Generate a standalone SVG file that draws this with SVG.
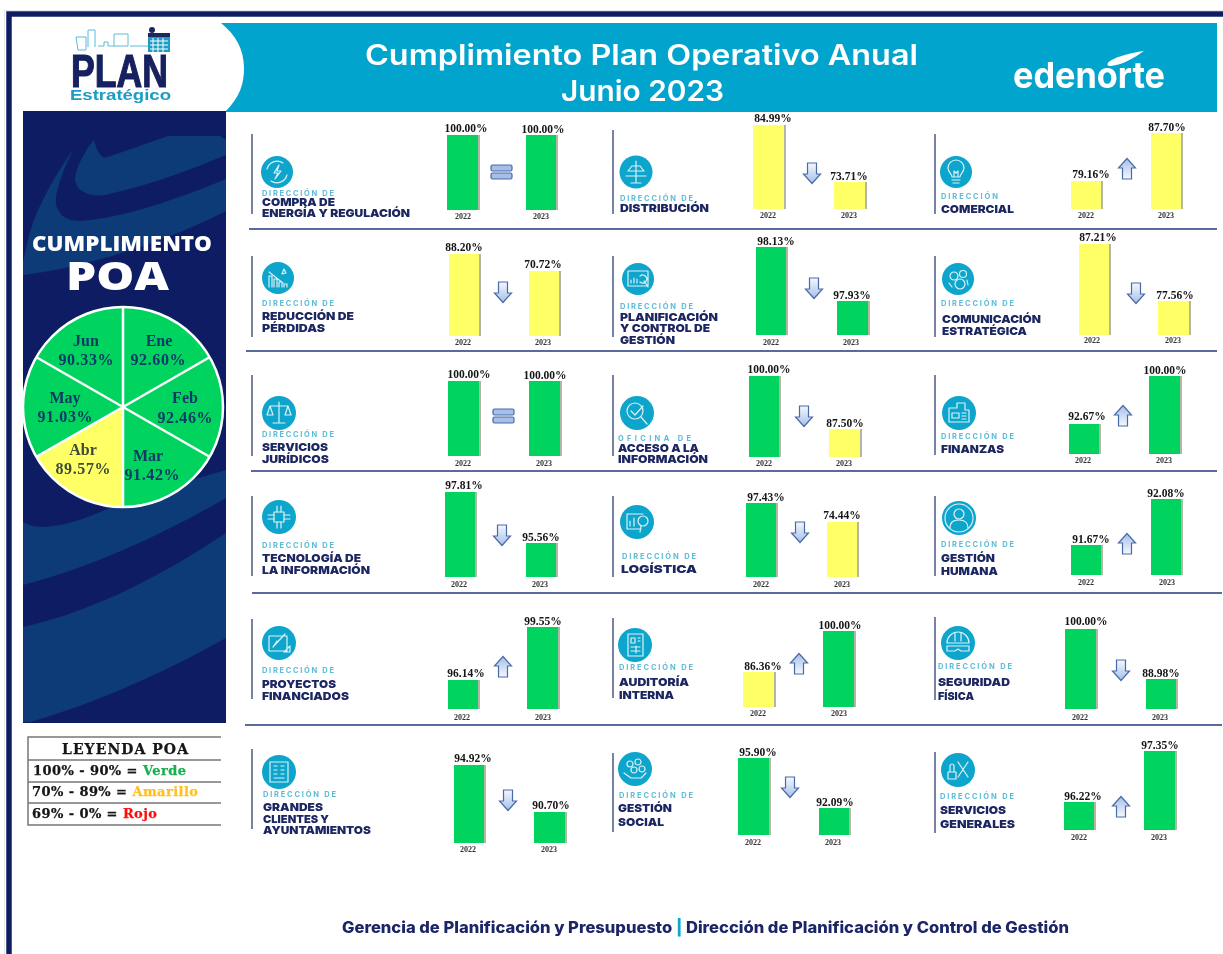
<svg xmlns="http://www.w3.org/2000/svg" xmlns:xlink="http://www.w3.org/1999/xlink" width="1223" height="954" viewBox="0 0 1223 954">
<style>
.d{font:700 7.5px Inter,"Liberation Sans",sans-serif;fill:#5cbcd8}
.n{font:900 11px Inter,"Liberation Sans",sans-serif;fill:#1b2560}
.p{font:bold 11.5px "Liberation Serif",serif;fill:#141414;text-anchor:middle}
.y{font:bold 8px "Liberation Serif",serif;fill:#333;text-anchor:middle}
.g{fill:#00d45f}.a{fill:#ffff66}.s{fill:#b5b5a5}
.c{fill:#0ea5cb}
.i{fill:none;stroke:#fff;stroke-width:1.2;stroke-linecap:round;stroke-linejoin:round;opacity:.85}
.v{stroke:#4c5786;stroke-width:1.5}
.r{stroke:#5a6a9c;stroke-width:1.8}
.m{font:bold 16px "Liberation Serif",serif;fill:#0d3a66;text-anchor:middle}
.l{font:bold 13px "DejaVu Serif",serif;fill:#141414;stroke:currentColor;stroke-width:.25}
.w{fill:none;stroke:#5bbcd8;stroke-width:1}
</style>
<defs>
<linearGradient id="ag" x1="0" y1="0" x2="0" y2="1"><stop offset="0" stop-color="#f4f8ff"/><stop offset="1" stop-color="#a5bfe8"/></linearGradient>
<linearGradient id="au" x1="0" y1="1" x2="0" y2="0"><stop offset="0" stop-color="#f4f8ff"/><stop offset="1" stop-color="#a5bfe8"/></linearGradient>
<path id="dn" d="M-4.500,-10H4.500V1H8.500L0,10.500L-8.500,1H-4.500Z" fill="url(#ag)" stroke="#4a6aa8" stroke-width="1.2"/>
<path id="up" d="M-4.500,10H4.500V-1H8.500L0,-10.500L-8.500,-1H-4.500Z" fill="url(#au)" stroke="#4a6aa8" stroke-width="1.2"/>
<g id="eq"><rect x="-11" y="-7" width="21" height="6" rx="1.5" fill="#a5bfe8" stroke="#4a6aa8" stroke-width="1.2"/><rect x="-11" y="1" width="21" height="6" rx="1.5" fill="#a5bfe8" stroke="#4a6aa8" stroke-width="1.2"/></g>
<filter id="soft" x="0" y="0" width="100%" height="100%"><feGaussianBlur stdDeviation="0.45"/></filter>
</defs>
<rect width="1223" height="954" fill="#fff"/>
<g filter="url(#soft)">
<g id="frame">
<path d="M4,954V10H1223" fill="none" stroke="#e6e6e6" stroke-width="2"/>
<path d="M9,954V14H1223" fill="none" stroke="#0f1f64" stroke-width="5.5"/>
</g>
<g id="header">
<path d="M221,23H1217V112H225C240,97 244,84 244,68C244,50 236,35 221,23Z" fill="#06a4cc"/>
<text x="365" y="65" font-family="Inter,'Liberation Sans',sans-serif" font-weight="600" font-size="28" fill="#fff" textLength="553" lengthAdjust="spacingAndGlyphs">Cumplimiento Plan Operativo Anual</text>
<text x="561" y="101" font-family="Inter,'Liberation Sans',sans-serif" font-weight="600" font-size="28" fill="#fff" textLength="163" lengthAdjust="spacingAndGlyphs">Junio 2023</text>
<text x="1013" y="88" font-family="Inter,'Liberation Sans',sans-serif" font-weight="700" font-size="36" fill="#fff" textLength="152" lengthAdjust="spacingAndGlyphs">edenorte</text>
<path d="M1144,51C1130,53 1118,56 1110,61C1106,64 1107,66 1111,66C1122,65 1134,58 1144,51Z" fill="#fff"/>
</g>
<g id="logo">
<path class="w" d="M76,37H86V50H78ZM88,47V30H95V47M98,46H104V42H108V46H114M114,34H128V46H114ZM130,46H148"/>
<rect x="148" y="35" width="22" height="17" fill="#1f9ec4"/>
<rect x="148" y="33" width="22" height="4" fill="#1b2560"/>
<path d="M150,41H168M150,45H168M150,49H168M153,38V52M158,38V52M163,38V52" stroke="#fff" stroke-width="1" fill="none"/>
<circle cx="152" cy="30" r="3" fill="#1b2560"/>
<text x="71" y="87" font-family="'Liberation Sans',sans-serif" font-weight="bold" font-size="47" fill="#16205e" stroke="#16205e" stroke-width="1.2" textLength="97" lengthAdjust="spacingAndGlyphs">PLAN</text>
<text x="70" y="100" font-family="'Liberation Sans',sans-serif" font-weight="bold" font-size="15" fill="#1c9cc4" textLength="101" lengthAdjust="spacingAndGlyphs">Estratégico</text>
</g>
<g id="panel">
<rect x="23" y="111" width="203" height="612" fill="#0f1f64"/>
<path d="M220,136L168,136L105,158C98,155 96,148 94,140C85,150 75,170 75,180C77,192 90,197 105,195C150,185 190,170 226,155V140Z" fill="#0d3a78"/>
<path d="M73,150C55,175 35,210 28,240L23,262V275C80,268 160,245 226,211V179C180,198 125,218 80,221C62,222 52,208 57,192C60,178 66,164 73,150Z" fill="#0d3a78"/>
<path d="M23,522C35,530 60,530 110,508C150,495 190,480 226,470V498C170,530 100,565 23,585Z" fill="#0d3a78"/>
<path d="M23,627C100,610 170,570 226,533V638C160,675 90,705 30,722H23Z" fill="#0d3a78"/>
<text x="32" y="251" font-family="'Open Sans','Liberation Sans',sans-serif" font-weight="800" font-size="21" fill="#fff" textLength="180" lengthAdjust="spacingAndGlyphs">CUMPLIMIENTO</text>
<text x="66" y="290" font-family="'Open Sans','Liberation Sans',sans-serif" font-weight="800" font-size="38" fill="#fff" textLength="103" lengthAdjust="spacingAndGlyphs">POA</text>
</g>
<g id="pie">
<circle cx="123" cy="407" r="100" fill="#00d45f"/>
<path d="M123,407L36,457A100,100 0 0 0 123,507Z" fill="#ffff66"/>
<circle cx="123" cy="407" r="100" fill="none" stroke="#fff" stroke-width="2.5"/>
<path d="M123,307V507M36,357L210,457M210,357L36,457" stroke="#fff" stroke-width="2.5" fill="none"/>
<text class="m" x="86" y="346">Jun</text><text class="m" x="86" y="365" textLength="55">90.33%</text>
<text class="m" x="159" y="346">Ene</text><text class="m" x="158" y="365" textLength="55">92.60%</text>
<text class="m" x="185" y="403">Feb</text><text class="m" x="185" y="423" textLength="55">92.46%</text>
<text class="m" x="148" y="461">Mar</text><text class="m" x="152" y="480" textLength="55">91.42%</text>
<text class="m" x="83" y="455" style="fill:#3d4a3a">Abr</text><text class="m" x="83" y="474" textLength="55" style="fill:#3d4a3a">89.57%</text>
<text class="m" x="65" y="403">May</text><text class="m" x="65" y="422" textLength="55">91.03%</text>
</g>
<g id="leyenda">
<rect x="28" y="737" width="193" height="88" fill="#fff"/>
<path d="M221,737H28V825H221M28,760H221M28,782H221M28,803H221" fill="none" stroke="#777" stroke-width="1.5"/>
<text class="l" x="62" y="754" textLength="126" style="font-size:14px;color:#141414">LEYENDA POA</text>
<text class="l" x="33" y="775" textLength="153" style="color:#141414">100% - 90% = <tspan fill="#16b050" stroke="#16b050">Verde</tspan></text>
<text class="l" x="32" y="796" textLength="166" style="color:#141414">70% - 89% = <tspan fill="#ffc020" stroke="#ffc020">Amarillo</tspan></text>
<text class="l" x="32" y="818" textLength="125" style="color:#141414">69% - 0% = <tspan fill="#ff1010" stroke="#ff1010">Rojo</tspan></text>
</g>
<g id="connectors">
<path class="r" d="M249,229H1217M246,351H1217M251,471H1217M252,593H1222M245,725H1222"/>
</g>
<g id="compra-energia">
<path class="v" d="M252,134V214"/><circle class="c" cx="277" cy="172" r="16"/>
<g class="i" transform="translate(277,172)"><path d="M-10,-3A10.500,10.500 0 0 1 6,-9M10,3A10.500,10.500 0 0 1 -6,9M2,-7L-3,1H1L-2,7L4,-1H0Z"/></g>
<text class="d" x="262" y="196" textLength="72" lengthAdjust="spacing">DIRECCIÓN DE</text>
<text class="n" x="262" y="206" textLength="73" lengthAdjust="spacingAndGlyphs">COMPRA DE</text>
<text class="n" x="262" y="217" textLength="148" lengthAdjust="spacingAndGlyphs">ENERGÍA Y REGULACIÓN</text>
<rect class="s" x="477" y="135" width="3" height="75"/><rect class="g" x="447" y="135" width="31" height="75"/>
<rect class="s" x="555" y="135" width="3" height="75"/><rect class="g" x="526" y="135" width="30" height="75"/>
<text class="p" x="466" y="132">100.00%</text><text class="p" x="543" y="133">100.00%</text>
<text class="y" x="463" y="219">2022</text><text class="y" x="541" y="219">2023</text>
<use xlink:href="#eq" href="#eq" x="502" y="172"/>
</g>
<g id="distribucion">
<path class="v" d="M613,130V214"/><circle class="c" cx="636" cy="172" r="16.500"/>
<g class="i" transform="translate(636,172)"><path d="M0,-11V11M-4,-6H4M-8,-1H8M-10,4H10M-5,11H5M-4,-6L-8,-1M4,-6L8,-1"/></g>
<text class="d" x="620" y="201" textLength="73" lengthAdjust="spacing">DIRECCIÓN DE</text>
<text class="n" x="620" y="212" textLength="89" lengthAdjust="spacingAndGlyphs">DISTRIBUCIÓN</text>
<rect class="s" x="783" y="125" width="3" height="84"/><rect class="a" x="753" y="125" width="31" height="84"/>
<rect class="s" x="864" y="182" width="3" height="27"/><rect class="a" x="834" y="182" width="31" height="27"/>
<text class="p" x="773" y="122">84.99%</text><text class="p" x="849" y="180">73.71%</text>
<text class="y" x="768" y="218">2022</text><text class="y" x="849" y="218">2023</text>
<use xlink:href="#dn" href="#dn" x="812" y="173"/>
</g>
<g id="comercial">
<path class="v" d="M935,134V214"/><circle class="c" cx="956" cy="172" r="16"/>
<g class="i" transform="translate(956,172)"><path d="M-4,5C-4,2 -8,0 -8,-4A8,8 0 0 1 8,-4C8,0 4,2 4,5ZM-4,8H4M-3,11H3M-2,5V-1L0,1L2,-1V5"/></g>
<text class="d" x="941" y="199" textLength="57" lengthAdjust="spacing">DIRECCIÓN</text>
<text class="n" x="941" y="213" textLength="73" lengthAdjust="spacingAndGlyphs">COMERCIAL</text>
<rect class="s" x="1100" y="181" width="3" height="28"/><rect class="a" x="1071" y="181" width="30" height="28"/>
<rect class="s" x="1180" y="133" width="3" height="76"/><rect class="a" x="1151" y="133" width="30" height="76"/>
<text class="p" x="1091" y="178">79.16%</text><text class="p" x="1167" y="131">87.70%</text>
<text class="y" x="1086" y="218">2022</text><text class="y" x="1166" y="218">2023</text>
<use xlink:href="#up" href="#up" x="1127" y="169"/>
</g>
<g id="reduccion-perdidas">
<path class="v" d="M252,256V337"/><circle class="c" cx="278" cy="278" r="16"/>
<g class="i" transform="translate(278,278)"><path d="M-9,9V-2H-6V9M-4,9V1H-1V9M1,9V4H4V9M6,9V6H9V9M-9,-6L5,5M6,-9L4,-4L8,-5Z"/></g>
<text class="d" x="262" y="306" textLength="72" lengthAdjust="spacing">DIRECCIÓN DE</text>
<text class="n" x="262" y="320" textLength="92" lengthAdjust="spacingAndGlyphs">REDUCCIÓN DE</text>
<text class="n" x="262" y="332" textLength="63" lengthAdjust="spacingAndGlyphs">PÉRDIDAS</text>
<rect class="s" x="478" y="254" width="3" height="82"/><rect class="a" x="449" y="254" width="30" height="82"/>
<rect class="s" x="558" y="271" width="3" height="65"/><rect class="a" x="529" y="271" width="30" height="65"/>
<text class="p" x="464" y="251">88.20%</text><text class="p" x="543" y="268">70.72%</text>
<text class="y" x="463" y="345">2022</text><text class="y" x="543" y="345">2023</text>
<use xlink:href="#dn" href="#dn" x="503" y="292"/>
</g>
<g id="planificacion">
<path class="v" d="M613,256V337"/><circle class="c" cx="638" cy="279" r="16"/>
<g class="i" transform="translate(638,279)"><path d="M-10,-8H10V7H-10ZM-7,4V1M-4,4V-1M-1,4V0M2,3A4,4 0 1 0 2,-3M6,2L10,8"/></g>
<text class="d" x="620" y="309" textLength="73" lengthAdjust="spacing">DIRECCIÓN DE</text>
<text class="n" x="620" y="321" textLength="98" lengthAdjust="spacingAndGlyphs">PLANIFICACIÓN</text>
<text class="n" x="620" y="332" textLength="90" lengthAdjust="spacingAndGlyphs">Y CONTROL DE</text>
<text class="n" x="620" y="344" textLength="55" lengthAdjust="spacingAndGlyphs">GESTIÓN</text>
<rect class="s" x="785" y="247" width="3" height="88"/><rect class="g" x="756" y="247" width="30" height="88"/>
<rect class="s" x="867" y="301" width="3" height="34"/><rect class="g" x="837" y="301" width="31" height="34"/>
<text class="p" x="776" y="245">98.13%</text><text class="p" x="852" y="299">97.93%</text>
<text class="y" x="771" y="345">2022</text><text class="y" x="851" y="345">2023</text>
<use xlink:href="#dn" href="#dn" x="814" y="288"/>
</g>
<g id="comunicacion">
<path class="v" d="M935,256V337"/><circle class="c" cx="958" cy="279" r="16"/>
<g class="i" transform="translate(958,279)"><circle cx="-4" cy="-3" r="4"/><circle cx="5" cy="-5" r="3.500"/><circle cx="2" cy="5" r="5"/><path d="M-9,4L-6,8M9,1L10,6"/></g>
<text class="d" x="941" y="306" textLength="73" lengthAdjust="spacing">DIRECCIÓN DE</text>
<text class="n" x="942" y="323" textLength="99" lengthAdjust="spacingAndGlyphs">COMUNICACIÓN</text>
<text class="n" x="942" y="335" textLength="85" lengthAdjust="spacingAndGlyphs">ESTRATÉGICA</text>
<rect class="s" x="1108" y="244" width="3" height="91"/><rect class="a" x="1079" y="244" width="30" height="91"/>
<rect class="s" x="1188" y="301" width="3" height="34"/><rect class="a" x="1158" y="301" width="31" height="34"/>
<text class="p" x="1098" y="241">87.21%</text><text class="p" x="1175" y="299">77.56%</text>
<text class="y" x="1092" y="343">2022</text><text class="y" x="1173" y="343">2023</text>
<use xlink:href="#dn" href="#dn" x="1136" y="293"/>
</g>
<g id="juridicos">
<path class="v" d="M252,375V456"/><circle class="c" cx="279" cy="413" r="17"/>
<g class="i" transform="translate(279,413)"><path d="M0,-11V9M-6,10H6M-9,-7H9M-9,-7L-12,2H-6ZM9,-7L6,2H12Z"/></g>
<text class="d" x="262" y="437" textLength="72" lengthAdjust="spacing">DIRECCIÓN DE</text>
<text class="n" x="262" y="451" textLength="66" lengthAdjust="spacingAndGlyphs">SERVICIOS</text>
<text class="n" x="262" y="463" textLength="67" lengthAdjust="spacingAndGlyphs">JURÍDICOS</text>
<rect class="s" x="478" y="381" width="3" height="75"/><rect class="g" x="448" y="381" width="31" height="75"/>
<rect class="s" x="559" y="381" width="3" height="75"/><rect class="g" x="529" y="381" width="31" height="75"/>
<text class="p" x="469" y="378">100.00%</text><text class="p" x="545" y="379">100.00%</text>
<text class="y" x="463" y="466">2022</text><text class="y" x="544" y="466">2023</text>
<use xlink:href="#eq" href="#eq" x="504" y="416"/>
</g>
<g id="acceso-informacion">
<path class="v" d="M613,375V456"/><circle class="c" cx="637" cy="413" r="17"/>
<g class="i" transform="translate(637,413)"><circle cx="-2" cy="-2" r="8"/><path d="M-6,-2L-2,2L6,-7M4,4L10,11"/></g>
<text class="d" x="618" y="441" textLength="73" lengthAdjust="spacing">OFICINA DE</text>
<text class="n" x="618" y="452" textLength="81" lengthAdjust="spacingAndGlyphs">ACCESO A LA</text>
<text class="n" x="618" y="463" textLength="90" lengthAdjust="spacingAndGlyphs">INFORMACIÓN</text>
<rect class="s" x="778" y="376" width="3" height="81"/><rect class="g" x="749" y="376" width="30" height="81"/>
<rect class="s" x="859" y="429" width="3" height="28"/><rect class="a" x="829" y="429" width="31" height="28"/>
<text class="p" x="769" y="373">100.00%</text><text class="p" x="845" y="427">87.50%</text>
<text class="y" x="764" y="466">2022</text><text class="y" x="844" y="466">2023</text>
<use xlink:href="#dn" href="#dn" x="804" y="416"/>
</g>
<g id="finanzas">
<path class="v" d="M935,375V455"/><circle class="c" cx="959" cy="413" r="17"/>
<g class="i" transform="translate(959,413)"><path d="M-10,-5H-2V-10H6V-3H10V9H-10ZM-7,0H0V5H-7ZM3,0H7M3,3H7M3,6H7"/></g>
<text class="d" x="941" y="439" textLength="73" lengthAdjust="spacing">DIRECCIÓN DE</text>
<text class="n" x="941" y="453" textLength="63" lengthAdjust="spacingAndGlyphs">FINANZAS</text>
<rect class="s" x="1098" y="424" width="3" height="30"/><rect class="g" x="1069" y="424" width="30" height="30"/>
<rect class="s" x="1179" y="376" width="3" height="78"/><rect class="g" x="1149" y="376" width="31" height="78"/>
<text class="p" x="1087" y="420">92.67%</text><text class="p" x="1165" y="374">100.00%</text>
<text class="y" x="1083" y="463">2022</text><text class="y" x="1164" y="463">2023</text>
<use xlink:href="#up" href="#up" x="1123" y="416"/>
</g>
<g id="tecnologia">
<path class="v" d="M252,496V576"/><circle class="c" cx="279" cy="517" r="17"/>
<g class="i" transform="translate(279,517)"><rect x="-5" y="-5" width="10" height="10"/><path d="M-5,-2H-11M-5,2H-11M5,-2H11M5,2H11M-2,-5V-11M2,-5V-11M-2,5V11M2,5V11"/></g>
<text class="d" x="262" y="548" textLength="72" lengthAdjust="spacing">DIRECCIÓN DE</text>
<text class="n" x="262" y="562" textLength="99" lengthAdjust="spacingAndGlyphs">TECNOLOGÍA DE</text>
<text class="n" x="262" y="574" textLength="108" lengthAdjust="spacingAndGlyphs">LA INFORMACIÓN</text>
<rect class="s" x="474" y="492" width="3" height="85"/><rect class="g" x="445" y="492" width="30" height="85"/>
<rect class="s" x="555" y="543" width="3" height="34"/><rect class="g" x="526" y="543" width="30" height="34"/>
<text class="p" x="464" y="489">97.81%</text><text class="p" x="541" y="541">95.56%</text>
<text class="y" x="459" y="587">2022</text><text class="y" x="540" y="587">2023</text>
<use xlink:href="#dn" href="#dn" x="502" y="535"/>
</g>
<g id="logistica">
<path class="v" d="M613,496V577"/><circle class="c" cx="637" cy="522" r="17"/>
<g class="i" transform="translate(637,522)"><path d="M-10,-8H6M-10,-8V7H4M-7,4V-1M-3,4V-4"/><circle cx="6" cy="-1" r="5"/><path d="M4,4L3,10"/></g>
<text class="d" x="622" y="559" textLength="74" lengthAdjust="spacing">DIRECCIÓN DE</text>
<text class="n" x="621" y="573" textLength="76" lengthAdjust="spacingAndGlyphs">LOGÍSTICA</text>
<rect class="s" x="775" y="503" width="3" height="74"/><rect class="g" x="746" y="503" width="30" height="74"/>
<rect class="s" x="856" y="522" width="3" height="55"/><rect class="a" x="827" y="522" width="30" height="55"/>
<text class="p" x="766" y="501">97.43%</text><text class="p" x="842" y="519">74.44%</text>
<text class="y" x="761" y="587">2022</text><text class="y" x="842" y="587">2023</text>
<use xlink:href="#dn" href="#dn" x="800" y="532"/>
</g>
<g id="gestion-humana">
<path class="v" d="M935,496V576"/><circle class="c" cx="959" cy="518" r="17"/>
<g class="i" transform="translate(959,518)"><circle cx="0" cy="0" r="14"/><circle cx="0" cy="-4" r="5"/><path d="M-9,10C-9,3 -4,2 0,2C4,2 9,3 9,10"/></g>
<text class="d" x="941" y="547" textLength="73" lengthAdjust="spacing">DIRECCIÓN DE</text>
<text class="n" x="941" y="562" textLength="54" lengthAdjust="spacingAndGlyphs">GESTIÓN</text>
<text class="n" x="941" y="575" textLength="57" lengthAdjust="spacingAndGlyphs">HUMANA</text>
<rect class="s" x="1100" y="545" width="3" height="30"/><rect class="g" x="1071" y="545" width="30" height="30"/>
<rect class="s" x="1180" y="499" width="3" height="76"/><rect class="g" x="1151" y="499" width="30" height="76"/>
<text class="p" x="1091" y="543">91.67%</text><text class="p" x="1166" y="497">92.08%</text>
<text class="y" x="1086" y="585">2022</text><text class="y" x="1167" y="585">2023</text>
<use xlink:href="#up" href="#up" x="1127" y="544"/>
</g>
<g id="proyectos">
<path class="v" d="M252,619V699"/><circle class="c" cx="279" cy="643" r="17"/>
<g class="i" transform="translate(279,643)"><path d="M-10,-7H8V8H-10ZM-6,4L6,-9M-6,4L-2,-2M5,9L11,3V9Z"/></g>
<text class="d" x="262" y="673" textLength="72" lengthAdjust="spacing">DIRECCIÓN DE</text>
<text class="n" x="262" y="688" textLength="74" lengthAdjust="spacingAndGlyphs">PROYECTOS</text>
<text class="n" x="262" y="700" textLength="87" lengthAdjust="spacingAndGlyphs">FINANCIADOS</text>
<rect class="s" x="477" y="680" width="3" height="29"/><rect class="g" x="448" y="680" width="30" height="29"/>
<rect class="s" x="557" y="627" width="3" height="82"/><rect class="g" x="527" y="627" width="31" height="82"/>
<text class="p" x="466" y="677">96.14%</text><text class="p" x="543" y="625">99.55%</text>
<text class="y" x="462" y="720">2022</text><text class="y" x="543" y="720">2023</text>
<use xlink:href="#up" href="#up" x="503" y="667"/>
</g>
<g id="auditoria">
<path class="v" d="M613,618V698"/><circle class="c" cx="635" cy="645" r="17"/>
<g class="i" transform="translate(635,645)"><path d="M-7,-11H8V11H-7ZM-4,-7H0V-2H-4ZM3,-7H5M3,-4H5M-4,2H5M-4,6H5M1,1V8"/></g>
<text class="d" x="619" y="670" textLength="74" lengthAdjust="spacing">DIRECCIÓN DE</text>
<text class="n" x="619" y="686" textLength="70" lengthAdjust="spacingAndGlyphs">AUDITORÍA</text>
<text class="n" x="619" y="699" textLength="55" lengthAdjust="spacingAndGlyphs">INTERNA</text>
<rect class="s" x="773" y="672" width="3" height="35"/><rect class="a" x="743" y="672" width="31" height="35"/>
<rect class="s" x="853" y="631" width="3" height="76"/><rect class="g" x="823" y="631" width="31" height="76"/>
<text class="p" x="763" y="670">86.36%</text><text class="p" x="840" y="629">100.00%</text>
<text class="y" x="758" y="716">2022</text><text class="y" x="839" y="716">2023</text>
<use xlink:href="#up" href="#up" x="799" y="664"/>
</g>
<g id="seguridad">
<path class="v" d="M935,617V700"/><circle class="c" cx="958" cy="643" r="17"/>
<g class="i" transform="translate(958,643)"><path d="M-11,0A11,11 0 0 1 11,0ZM-3,-10V-2M3,-10V-2M-11,3H11V8H3L0,6L-3,8H-11Z"/></g>
<text class="d" x="938" y="669" textLength="74" lengthAdjust="spacing">DIRECCIÓN DE</text>
<text class="n" x="938" y="686" textLength="72" lengthAdjust="spacingAndGlyphs">SEGURIDAD</text>
<text class="n" x="938" y="700" textLength="36" lengthAdjust="spacingAndGlyphs">FÍSICA</text>
<rect class="s" x="1095" y="629" width="3" height="80"/><rect class="g" x="1065" y="629" width="31" height="80"/>
<rect class="s" x="1175" y="679" width="3" height="30"/><rect class="g" x="1146" y="679" width="30" height="30"/>
<text class="p" x="1086" y="625">100.00%</text><text class="p" x="1161" y="677">88.98%</text>
<text class="y" x="1080" y="720">2022</text><text class="y" x="1160" y="720">2023</text>
<use xlink:href="#dn" href="#dn" x="1121" y="670"/>
</g>
<g id="grandes-clientes">
<path class="v" d="M252,749V829"/><circle class="c" cx="279" cy="772" r="17"/>
<g class="i" transform="translate(279,772)"><path d="M-9,-10H9V10H-9ZM-5,-6H-2M2,-6H5M-5,-2H-2M2,-2H5M-5,2H-2M2,2H5M-5,6H5"/></g>
<text class="d" x="263" y="797" textLength="73" lengthAdjust="spacing">DIRECCIÓN DE</text>
<text class="n" x="263" y="811" textLength="60" lengthAdjust="spacingAndGlyphs">GRANDES</text>
<text class="n" x="263" y="823" textLength="66" lengthAdjust="spacingAndGlyphs">CLIENTES Y</text>
<text class="n" x="263" y="834" textLength="108" lengthAdjust="spacingAndGlyphs">AYUNTAMIENTOS</text>
<rect class="s" x="483" y="765" width="3" height="78"/><rect class="g" x="454" y="765" width="30" height="78"/>
<rect class="s" x="564" y="812" width="3" height="31"/><rect class="g" x="534" y="812" width="31" height="31"/>
<text class="p" x="473" y="762">94.92%</text><text class="p" x="551" y="809">90.70%</text>
<text class="y" x="468" y="852">2022</text><text class="y" x="549" y="852">2023</text>
<use xlink:href="#dn" href="#dn" x="508" y="800"/>
</g>
<g id="gestion-social">
<path class="v" d="M613,753V832"/><circle class="c" cx="635" cy="769" r="17"/>
<g class="i" transform="translate(635,769)"><circle cx="-5" cy="-5" r="3"/><circle cx="3" cy="-7" r="3"/><circle cx="7" cy="0" r="3"/><circle cx="-1" cy="1" r="3"/><path d="M-11,4L-4,9H6L11,4"/></g>
<text class="d" x="619" y="798" textLength="74" lengthAdjust="spacing">DIRECCIÓN DE</text>
<text class="n" x="618" y="812" textLength="54" lengthAdjust="spacingAndGlyphs">GESTIÓN</text>
<text class="n" x="618" y="826" textLength="46" lengthAdjust="spacingAndGlyphs">SOCIAL</text>
<rect class="s" x="768" y="758" width="3" height="77"/><rect class="g" x="738" y="758" width="31" height="77"/>
<rect class="s" x="848" y="808" width="3" height="27"/><rect class="g" x="819" y="808" width="30" height="27"/>
<text class="p" x="758" y="756">95.90%</text><text class="p" x="835" y="806">92.09%</text>
<text class="y" x="753" y="845">2022</text><text class="y" x="833" y="845">2023</text>
<use xlink:href="#dn" href="#dn" x="790" y="787"/>
</g>
<g id="servicios-generales">
<path class="v" d="M935,752V833"/><circle class="c" cx="958" cy="770" r="17"/>
<g class="i" transform="translate(958,770)"><path d="M-10,2H-2V9H-10ZM-8,2V-4A2,2 0 0 1 -4,-4V2M0,-8L10,7M10,-8L0,7"/></g>
<text class="d" x="940" y="799" textLength="74" lengthAdjust="spacing">DIRECCIÓN DE</text>
<text class="n" x="940" y="814" textLength="66" lengthAdjust="spacingAndGlyphs">SERVICIOS</text>
<text class="n" x="940" y="828" textLength="75" lengthAdjust="spacingAndGlyphs">GENERALES</text>
<rect class="s" x="1093" y="802" width="3" height="28"/><rect class="g" x="1064" y="802" width="30" height="28"/>
<rect class="s" x="1174" y="751" width="3" height="79"/><rect class="g" x="1144" y="751" width="31" height="79"/>
<text class="p" x="1083" y="800">96.22%</text><text class="p" x="1160" y="749">97.35%</text>
<text class="y" x="1079" y="840">2022</text><text class="y" x="1159" y="840">2023</text>
<use xlink:href="#up" href="#up" x="1121" y="807"/>
</g>
<g id="footer">
<text x="342" y="933" font-family="Inter,'Liberation Sans',sans-serif" font-weight="800" font-size="15.5" fill="#1c2566" textLength="727" lengthAdjust="spacingAndGlyphs">Gerencia de Planificación y Presupuesto <tspan fill="#0ea5cb">|</tspan> Dirección de Planificación y Control de Gestión</text>
</g>
</g>
</svg>
